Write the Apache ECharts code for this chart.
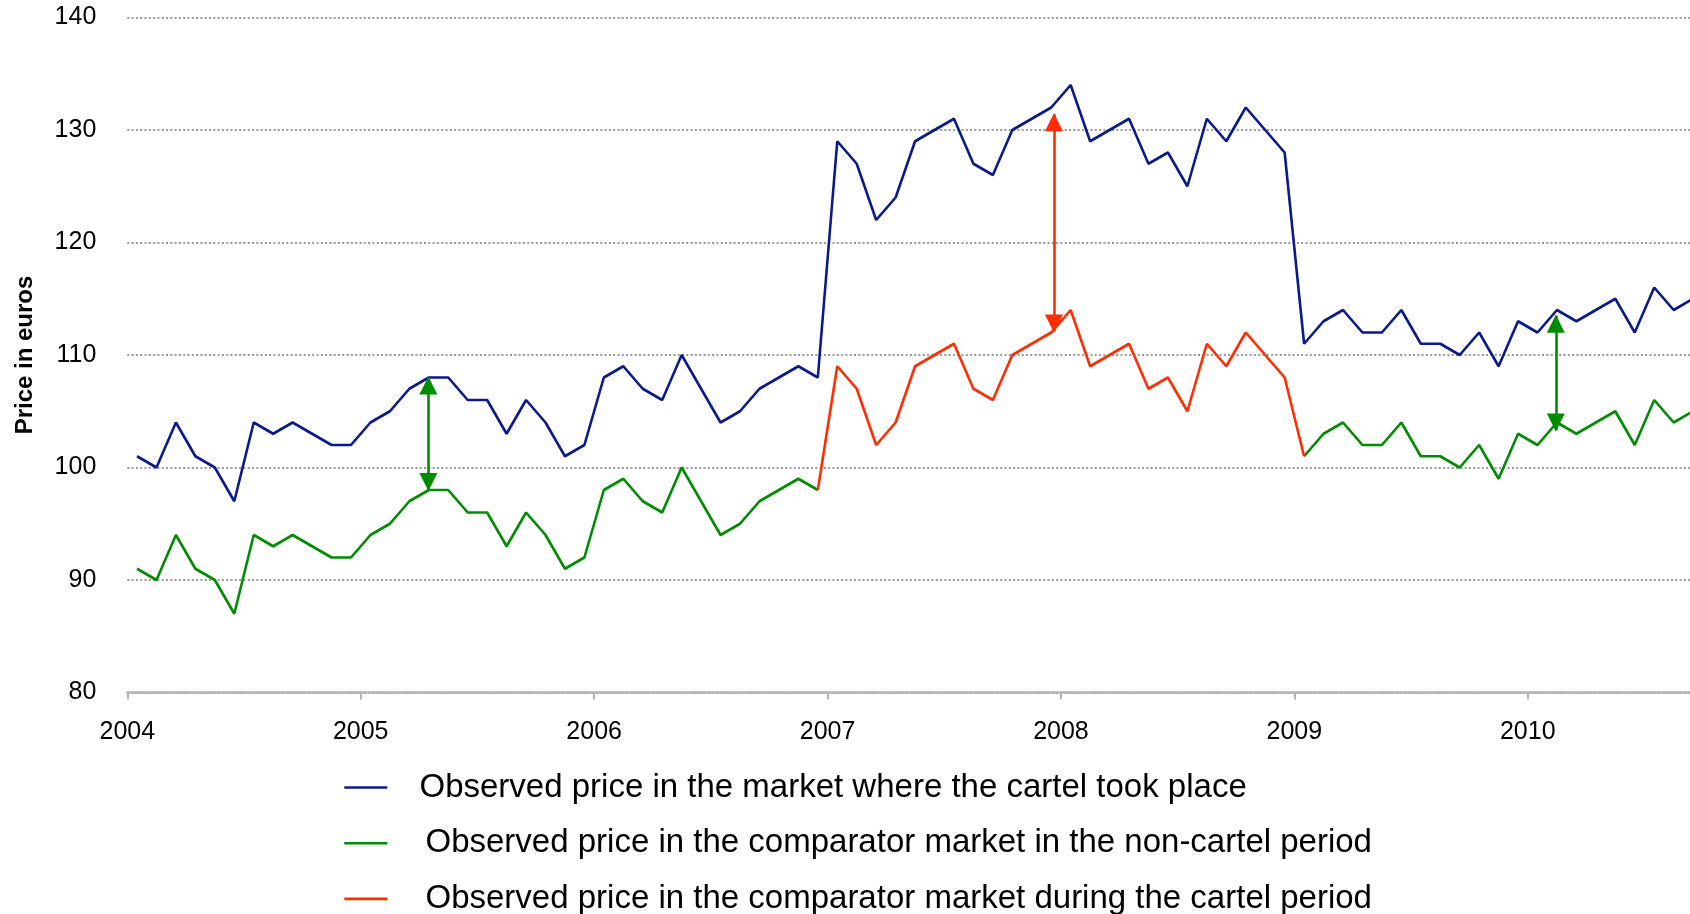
<!DOCTYPE html>
<html>
<head>
<meta charset="utf-8">
<script src="https://cdn.jsdelivr.net/npm/echarts@6/dist/echarts.min.js"></script>
<style>html,body{margin:0;padding:0;background:#fff}#chart{width:1690px;height:914px}</style>
</head>
<body>
<div id="chart"></div>
<script>
// ---- data (monthly prices, Jan 2004 onward) ----
const startYear = 2004;
const yearTicks = [2004, 2005, 2006, 2007, 2008, 2009, 2010];
const seriesNames = [
  'Observed price in the market where the cartel took place',
  'Observed price in the comparator market in the non-cartel period',
  'Observed price in the comparator market during the cartel period'
];
const cartelMarket = [
  101,100,104,101,100,97,104,103,104,103,102,102,
  104,105,107,108,108,106,106,103,106,104,101,102,
  108,109,107,106,110,107,104,105,107,108,109,108,
  129,127,122,124,129,130,131,127,126,130,131,132,
  134,129,130,131,127,128,125,131,129,132,130,128,
  111,113,114,112,112,114,111,111,110,112,109,113,
  112,114,113,114,115,112,116,114,115
];
const comparatorNonCartel = [
  91,90,94,91,90,87,94,93,94,93,92,92,
  94,95,97,98,98,96,96,93,96,94,91,92,
  98,99,97,96,100,97,94,95,97,98,99,98,
  null,null,null,null,null,null,null,null,null,null,null,null,
  null,null,null,null,null,null,null,null,null,null,null,null,
  101,103,104,102,102,104,101,101,100,102,99,103,
  102,104,103,104,105,102,106,104,105
];
const comparatorCartel = [
  null,null,null,null,null,null,null,null,null,null,null,null,
  null,null,null,null,null,null,null,null,null,null,null,null,
  null,null,null,null,null,null,null,null,null,null,null,98,
  109,107,102,104,109,110,111,107,106,110,111,112,
  114,109,110,111,107,108,105,111,109,112,110,108,
  101,null,null,null,null,null,null,null,null,null,null,null,
  null,null,null,null,null,null,null,null,null
];
// overcharge arrows: x position (year), low end, high end
const arrowYears = [2005.29, 2007.97, 2010.12];
const arrowLow  = [98, 112.1, 103.3];
const arrowHigh = [108, 131.4, 113.5];

const colors = ['#0A1A8C', '#008C00', '#FF2D00'];
const FONT = '"Liberation Sans", Arial, sans-serif';

const toPairs = arr => arr.map((v, i) => [startYear + (i + 0.5) / 12, v]);
const arrow = k => [{coord: [arrowYears[k], arrowLow[k]]}, {coord: [arrowYears[k], arrowHigh[k]]}];
const markLineCfg = (color, list) => ({
  silent: true,
  animation: false,
  symbol: ['triangle', 'triangle'],
  symbolSize: 18,
  symbolOffset: [[0, 8], [0, 8]],
  label: {show: false},
  emphasis: {disabled: true},
  lineStyle: {color: color, width: 2.6, type: 'solid'},
  itemStyle: {color: color},
  data: list
});

const chart = echarts.init(document.getElementById('chart'), null, {renderer: 'canvas'});
chart.setOption({
  animation: false,
  backgroundColor: '#fff',
  grid: {left: 127.3, right: 0, top: 17.5, bottom: 221.5, containLabel: false},
  xAxis: {
    type: 'value',
    min: 2004,
    max: 2010.695,
    interval: 1,
    axisLine: {show: true, lineStyle: {color: '#b4b4b4', width: 2.5}},
    axisTick: {show: true, customValues: yearTicks, length: 7, lineStyle: {color: '#b4b4b4', width: 2}},
    axisLabel: {customValues: yearTicks, formatter: v => String(v), color: '#000', fontSize: 25, fontFamily: FONT, margin: 27},
    splitLine: {show: false}
  },
  yAxis: {
    type: 'value',
    min: 80, max: 140, interval: 10,
    name: 'Price in euros',
    nameLocation: 'middle',
    nameGap: 90,
    nameTextStyle: {fontSize: 24, fontWeight: 'bold', color: '#000', fontFamily: FONT},
    axisLine: {show: false},
    axisTick: {show: false},
    axisLabel: {color: '#000', fontSize: 25, fontFamily: FONT, margin: 31},
    splitLine: {show: true, lineStyle: {color: '#999', width: 2, type: [2, 2.3]}}
  },
  legend: {
    orient: 'vertical',
    left: 344.3,
    top: 771,
    height: 300,
    padding: 0,
    itemGap: 22.7,
    itemWidth: 43,
    itemHeight: 2.6,
    icon: 'rect',
    selectedMode: false,
    data: seriesNames,
    formatter: name => (name === seriesNames[0] ? '{a|' : '{b|') + name + '}',
    textStyle: {
      fontSize: 33, color: '#000', fontFamily: FONT,
      rich: {
        a: {fontSize: 33, color: '#000', fontFamily: FONT, padding: [0, 0, 0, 27.2]},
        b: {fontSize: 33, color: '#000', fontFamily: FONT, padding: [0, 0, 0, 33.2]}
      }
    }
  },
  series: [
    {
      name: seriesNames[0], type: 'line', data: toPairs(cartelMarket),
      showSymbol: false, symbol: 'none', color: colors[0],
      lineStyle: {color: colors[0], width: 2.6}, emphasis: {disabled: true}, z: 3
    },
    {
      name: seriesNames[1], type: 'line', data: toPairs(comparatorNonCartel),
      showSymbol: false, symbol: 'none', color: colors[1],
      lineStyle: {color: colors[1], width: 2.6}, emphasis: {disabled: true}, z: 3,
      markLine: markLineCfg(colors[1], [arrow(0), arrow(2)])
    },
    {
      name: seriesNames[2], type: 'line', data: toPairs(comparatorCartel),
      showSymbol: false, symbol: 'none', color: colors[2],
      lineStyle: {color: colors[2], width: 2.6}, emphasis: {disabled: true}, z: 3,
      markLine: markLineCfg(colors[2], [arrow(1)])
    }
  ]
});
</script>
</body>
</html>
